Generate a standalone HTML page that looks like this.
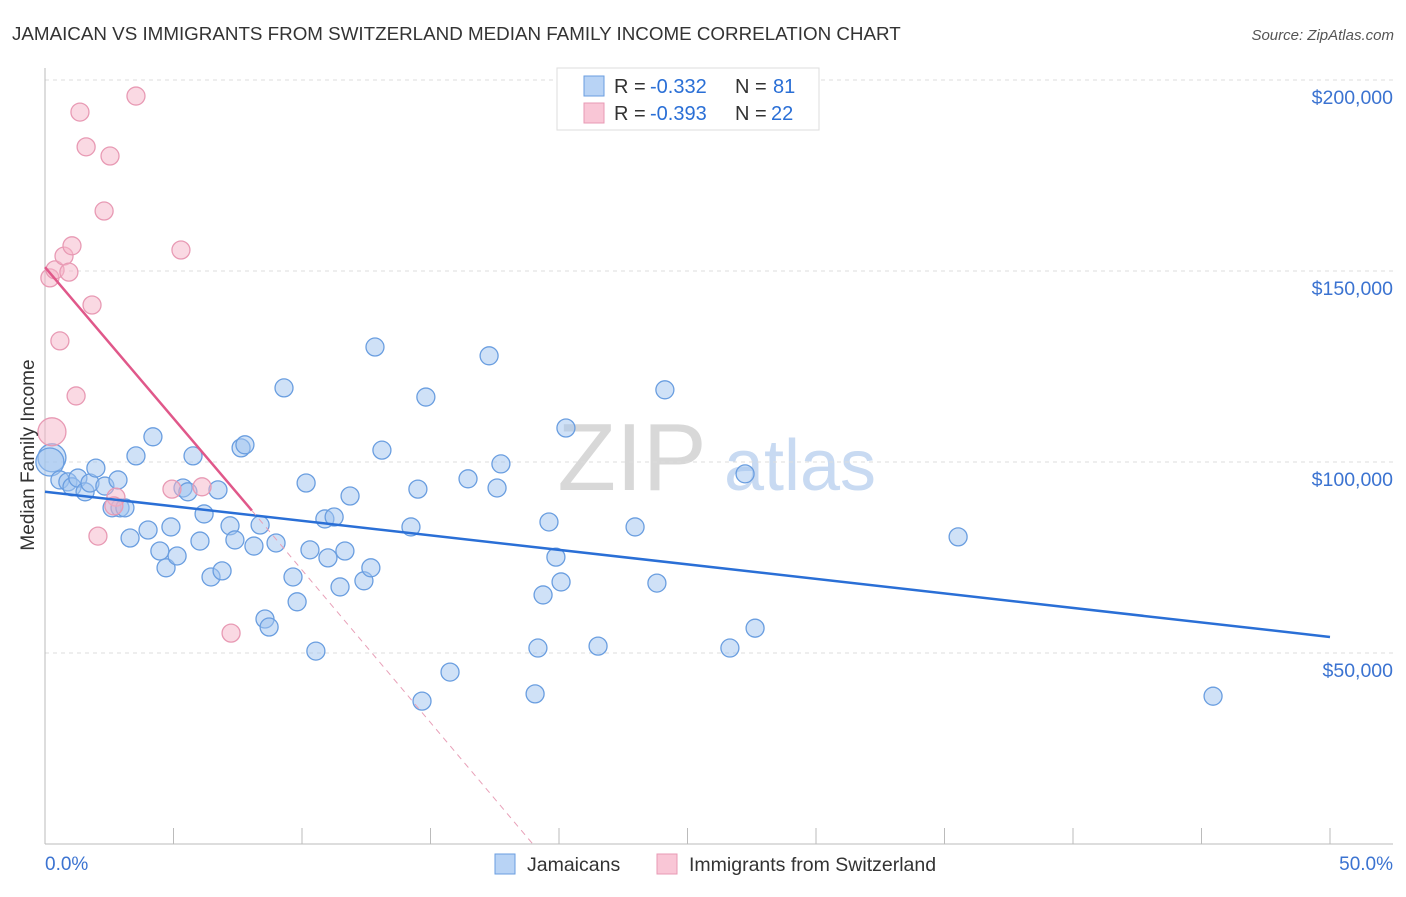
<!DOCTYPE html>
<html><head><meta charset="utf-8"><style>
body{margin:0;background:#fff;font-family:"Liberation Sans",sans-serif;}
svg text{font-family:"Liberation Sans",sans-serif;}
</style></head><body>
<svg id="chart" width="1406" height="892" viewBox="0 0 1406 892" xmlns="http://www.w3.org/2000/svg">
<text x="12" y="40" font-size="18.8" fill="#333">JAMAICAN VS IMMIGRANTS FROM SWITZERLAND MEDIAN FAMILY INCOME CORRELATION CHART</text>
<text x="1394" y="40" font-size="15" fill="#555" text-anchor="end" font-style="italic">Source: ZipAtlas.com</text>
<g>
<text x="632" y="490" font-size="96" fill="#d8d8d8" font-family="Liberation Serif" text-anchor="middle">ZIP</text>
<text x="800" y="490" font-size="72" fill="#c8daf2" text-anchor="middle">atlas</text>
</g>
<g id="grid"></g>
<g id="axes"></g>
<g id="marks"></g>
<text transform="translate(34,455) rotate(-90)" font-size="19" fill="#333" text-anchor="middle">Median Family Income</text>
<g>
<rect x="557" y="68" width="262" height="62" fill="#fff" stroke="#ddd"/>
<rect x="584" y="76" width="20" height="20" fill="#b8d3f5" stroke="#6a9ee0"/>
<rect x="584" y="103" width="20" height="20" fill="#f9c6d6" stroke="#e89ab4"/>
<text x="614" y="93" font-size="20" fill="#333">R =</text>
<text x="650" y="93" font-size="20" fill="#2a6fd6">-0.332</text>
<text x="735" y="93" font-size="20" fill="#333">N =</text>
<text x="773" y="93" font-size="20" fill="#2a6fd6">81</text>
<text x="614" y="120" font-size="20" fill="#333">R =</text>
<text x="650" y="120" font-size="20" fill="#2a6fd6">-0.393</text>
<text x="735" y="120" font-size="20" fill="#333">N =</text>
<text x="771" y="120" font-size="20" fill="#2a6fd6">22</text>
</g>
<g>
<rect x="495" y="854" width="20" height="20" fill="#b8d3f5" stroke="#6a9ee0"/>
<text x="527" y="871" font-size="19.5" fill="#333">Jamaicans</text>
<rect x="657" y="854" width="20" height="20" fill="#f9c6d6" stroke="#e89ab4"/>
<text x="689" y="871" font-size="19.5" fill="#333">Immigrants from Switzerland</text>
</g>
</svg>
<script>
const yTicks=[50000,100000,150000,200000];
const yTickLabels=["$50,000","$100,000","$150,000","$200,000"];
const xTicks=[0,5,10,15,20,25,30,35,40,45,50];
const blueX=[0.27,0.19,0.58,0.89,1.05,1.28,1.56,1.75,1.98,2.33,2.61,2.84,2.92,3.11,3.54,3.31,4.01,4.20,4.47,4.71,4.90,5.14,5.37,5.56,5.76,6.03,6.19,6.46,6.73,6.89,7.20,7.39,7.63,7.78,8.13,8.37,8.56,8.72,8.99,9.30,9.65,9.81,10.16,10.31,10.54,10.89,11.25,11.01,11.48,11.67,11.87,12.41,12.68,12.84,13.11,14.24,14.51,14.67,14.82,15.76,16.46,17.28,17.59,17.74,19.07,19.18,19.38,19.61,19.88,20.08,20.27,21.52,22.96,23.81,24.12,26.65,27.24,27.63,35.53,45.45];
const blueY=[101.1,100.0,95.3,94.8,93.5,95.8,92.2,94.5,98.4,93.7,88.0,95.3,88.0,88.0,101.6,80.1,82.2,106.6,76.7,72.3,83.0,75.4,93.2,92.2,101.6,79.3,86.4,69.9,92.7,71.5,83.3,79.6,103.7,104.5,78.0,83.5,58.9,56.8,78.8,119.4,69.9,63.4,94.5,77.0,50.5,85.1,85.6,74.9,67.3,76.7,91.1,68.9,72.3,130.1,103.1,83.0,92.9,37.4,117.0,45.0,95.6,127.8,93.2,99.5,39.3,51.3,65.2,84.3,75.1,68.6,108.9,51.8,83.0,68.3,118.9,51.3,96.9,56.5,80.4,38.7];
const pinkX=[0.27,0.19,0.39,0.58,0.74,0.93,1.05,1.21,1.36,1.60,1.83,2.06,2.30,2.53,2.76,2.68,3.54,4.94,5.29,6.11,7.24];
const pinkY=[107.9,148.2,150.3,131.7,153.9,149.7,156.6,117.3,191.6,182.5,141.1,80.6,165.7,180.1,90.8,88.5,195.8,92.9,155.5,93.5,55.2];
const blueTrendX=[0,50], blueTrendY=[92.2,54.2];
const pinkTrendX=[0,8.05,18.98], pinkTrendY=[151.0,87.3,0];
const X=v=>45+v*25.7, Y=k=>844-k*1000*191/50000;
const NS="http://www.w3.org/2000/svg";
function mk(p,t,a){const e=document.createElementNS(NS,t);for(const k in a)e.setAttribute(k,a[k]);p.appendChild(e);return e;}
const grid=document.getElementById('grid'),axes=document.getElementById('axes'),marks=document.getElementById('marks');
yTicks.forEach((v,i)=>{const y=Y(v/1000);
const l=mk(grid,'line',{x1:45,x2:1393,y1:y,y2:y,stroke:'#ddd','stroke-dasharray':'4,4'});


const t=mk(axes,'text',{x:1393,y:y+24,'font-size':19.5,fill:'#3b73d1','text-anchor':'end'});t.textContent=yTickLabels[i];

});
mk(grid,'line',{x1:45,x2:1393,y1:80,y2:80,stroke:'#ddd','stroke-dasharray':'4,4'});
mk(axes,'line',{x1:45,x2:45,y1:68,y2:844,stroke:'#bbb'});
mk(axes,'line',{x1:45,x2:1393,y1:844,y2:844,stroke:'#bbb'});
xTicks.forEach(v=>{const x=X(v);const l=mk(axes,'line',{x1:x,x2:x,y1:828,y2:844,stroke:'#bbb'});

});
const x0=mk(axes,'text',{x:45,y:870,'font-size':19,fill:'#3b73d1'});x0.textContent='0.0%';


const x1=mk(axes,'text',{x:1393,y:870,'font-size':19,fill:'#3b73d1','text-anchor':'end'});x1.textContent='50.0%';


blueX.forEach((v,i)=>{const c=mk(marks,'circle',{cx:X(v),cy:Y(blueY[i]),r:i<2?14:9,fill:'rgba(160,196,240,0.5)',stroke:'#6a9ee0','stroke-width':1.3});

});
pinkX.forEach((v,i)=>{const c=mk(marks,'circle',{cx:X(v),cy:Y(pinkY[i]),r:i<1?14:9,fill:'rgba(245,180,200,0.5)',stroke:'#e89ab4','stroke-width':1.3});

});
const bl=mk(marks,'line',{x1:X(blueTrendX[0]),y1:Y(blueTrendY[0]),x2:X(blueTrendX[1]),y2:Y(blueTrendY[1]),stroke:'#2a6fd6','stroke-width':2.5});


const pl=mk(marks,'line',{x1:X(pinkTrendX[0]),y1:Y(pinkTrendY[0]),x2:X(pinkTrendX[1]),y2:Y(pinkTrendY[1]),stroke:'#e0588a','stroke-width':2.5});


const pd=mk(marks,'line',{x1:X(pinkTrendX[1]),y1:Y(pinkTrendY[1]),x2:X(pinkTrendX[2]),y2:Y(pinkTrendY[2]),stroke:'#e8a0b8','stroke-width':1,'stroke-dasharray':'6,5'});


</script>
</body></html>
